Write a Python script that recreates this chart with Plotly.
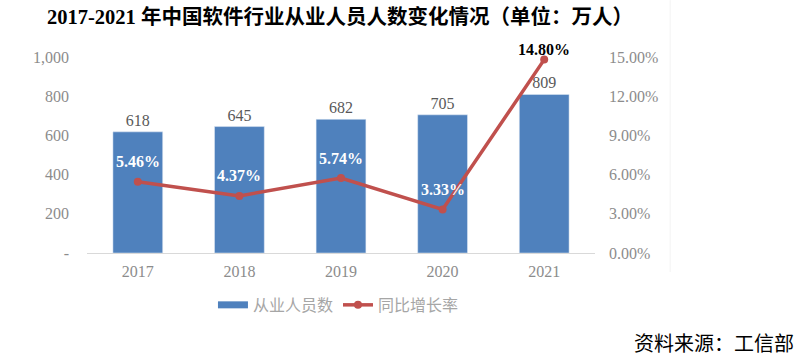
import plotly.graph_objects as go

years = ["2017", "2018", "2019", "2020", "2021"]
employees = [618, 645, 682, 705, 809]
growth = [5.46, 4.37, 5.74, 3.33, 14.80]
left_ticks = [0, 200, 400, 600, 800, 1000]
left_labels = ["-", "200", "400", "600", "800", "1,000"]
right_ticks = [0, 3, 6, 9, 12, 15]
right_labels = ["0.00%", "3.00%", "6.00%", "9.00%", "12.00%", "15.00%"]

title = "2017-2021 年中国软件行业从业人员人数变化情况（单位：万人）"
source = "资料来源：工信部"

serif = "Liberation Serif, Times New Roman, serif"
title_font = "Liberation Serif, Noto Sans CJK SC, serif"
cjk = "Noto Sans CJK SC, sans-serif"
gray = "#8C8C8C"
bar_color = "#4F81BD"
line_color = "#C0504D"

fig = go.Figure()
fig.add_trace(go.Bar(
    x=years, y=employees, name="从业人员数", showlegend=False,
    marker=dict(color=bar_color), width=0.49,
    text=[str(v) for v in employees], textposition="outside",
    textfont=dict(family=serif, size=16, color="#595959"),
    cliponaxis=False,
))
# legend-only swatch for bars (wide rectangle like the reference)
fig.add_trace(go.Scatter(
    x=[None], y=[None], name="从业人员数", mode="lines",
    line=dict(color=bar_color, width=7),
))
fig.add_trace(go.Scatter(
    x=years, y=growth, name="同比增长率", yaxis="y2",
    mode="lines+markers",
    line=dict(color=line_color, width=3.5),
    marker=dict(color=line_color, size=8),
    cliponaxis=False,
))

for i, g in enumerate(growth):
    last = i == len(growth) - 1
    fig.add_annotation(
        x=i, y=g, xref="x", yref="y2", text=f"<b>{g:.2f}%</b>", showarrow=False,
        yshift=10 if last else 20,
        font=dict(family=serif, size=16, color="#000000" if last else "#FFFFFF"),
    )

fig.add_annotation(
    x=1.079, y=1.209, xref="paper", yref="paper", xanchor="right", yanchor="middle",
    text=f"<b>{title}</b>", showarrow=False,
    font=dict(family=title_font, size=20.5, color="#000000"),
)
fig.add_annotation(
    x=1.395, y=-0.459, xref="paper", yref="paper", xanchor="right", yanchor="middle",
    text=source, showarrow=False,
    font=dict(family=cjk, size=20, color="#000000"),
)

fig.add_shape(type="line", xref="paper", yref="paper",
              x0=1.148, x1=1.148, y0=-0.097, y1=1.29,
              line=dict(color="#F3F3F3", width=1))

fig.update_layout(
    width=799, height=356,
    margin=dict(l=87, r=204, t=57, b=103),
    paper_bgcolor="white", plot_bgcolor="white",
    showlegend=True,
    legend=dict(orientation="h", x=0.495, xanchor="center", y=-0.265, yanchor="middle",
                font=dict(family=cjk, size=16, color="#A6A6A6"),
                traceorder="normal"),
    xaxis=dict(type="category", range=[-0.5, 4.5], showgrid=False, showline=True,
               linecolor="#D9D9D9", linewidth=1,
               tickfont=dict(family=serif, size=16, color=gray), ticks="",
               ticklabelstandoff=4),
    yaxis=dict(range=[0, 1000], tickvals=left_ticks, ticktext=left_labels,
               showgrid=False, zeroline=False, ticks="",
               tickfont=dict(family=serif, size=16, color=gray), ticklabelstandoff=17),
    yaxis2=dict(range=[0, 15], tickvals=right_ticks, ticktext=right_labels,
                overlaying="y", side="right", showgrid=False, zeroline=False,
                tickfont=dict(family=serif, size=16, color=gray), ticklabelstandoff=13),
)

fig.write_html("out.html", config={"displayModeBar": False},
               post_script="document.body.style.margin='0';")
